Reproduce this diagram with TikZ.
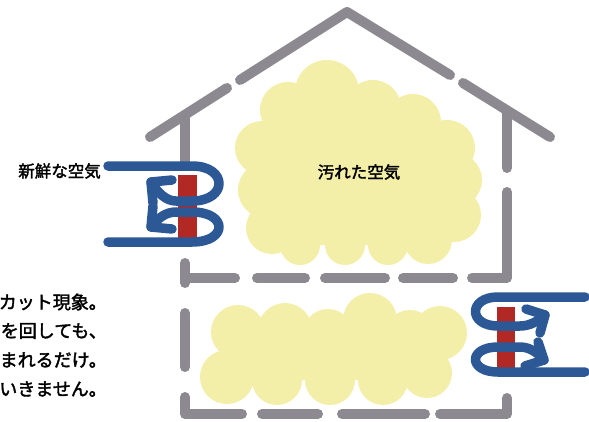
\documentclass[tikz,border=0pt]{standalone}
\usepackage{fontspec}
\usepackage{xcolor}
\newfontfamily\jpfont{Noto Sans CJK JP}[FakeBold=2]

\definecolor{wallgray}{RGB}{140,138,144}
\definecolor{airblue}{RGB}{45,88,150}
\definecolor{fanred}{RGB}{178,40,36}
\definecolor{smog}{RGB}{243,239,168}

\tikzset{
  wall/.style={line width=10pt,line cap=round,line join=round,draw=wallgray},
  flow/.style={line width=9.5pt,line cap=round,line join=round,draw=airblue},
  fan/.style={fill=fanred},
  cloud/.style={fill=smog},
  label/.style={font=\jpfont\fontsize{16.5}{20}\selectfont,inner sep=0pt},
  note/.style={font=\jpfont\fontsize{18}{22}\selectfont,inner sep=0pt,anchor=east}
}

\begin{document}
\begin{tikzpicture}[x=1pt,y=-1pt]
    \useasboundingbox[fill=white] (0,0) rectangle (589,421);
    % 2階の汚れた空気
    \fill[cloud] (327,92) -- (373,108) -- (413,122) -- (447,148) -- (455,180) -- (454,215)
      -- (428,240) -- (388,245) -- (345,245) -- (300,245) -- (272,228) -- (266,190)
      -- (262,148) -- (288,110) -- cycle;
    \foreach \cx/\cy/\r in {327/92/32,373/108/28,413/122/28,447/148/28,455/180/27,454/215/27,
      428/240/24,388/245/20,345/245/20,300/245/20,272/228/26,266/190/28,262/148/27,288/110/28}
      \fill[cloud] (\cx,\cy) circle (\r);
    % 1階の汚れた空気
    \fill[cloud] (238,332) -- (285,330) -- (328,334) -- (370,320) -- (410,335) -- (440,333)
      -- (427,373) -- (383,380) -- (330,380) -- (277,380) -- (227,377) -- cycle;
    \foreach \cx/\cy/\r in {238/332/27,285/330/27,328/334/25,370/320/27,410/335/25,440/333/27,
      227/377/27,277/380/25,330/380/25,383/380/25,427/373/25}
      \fill[cloud] (\cx,\cy) circle (\r);

    % 屋根
    \draw[wall] (240,80) -- (347,12) -- (450,75);
    \draw[wall] (227,88) -- (150,137);
    \draw[wall] (463,83) -- (550,137);
    % 2階の壁と床
    \draw[wall] (185,115) -- (185,163);
    \draw[wall] (507,111) -- (507,168);
    \draw[wall] (185,263) -- (185,283);
    \draw[wall] (185,278) -- (235,278);
    \draw[wall] (257,278) -- (305,278);
    \draw[wall] (325,278) -- (385,278);
    \draw[wall] (403,278) -- (453,278);
    \draw[wall] (472,278) -- (507,278) -- (507,192);
    % 1階の壁と床
    \draw[wall] (185,313) -- (185,367);
    \draw[wall] (185,397) -- (185,414) -- (242,414);
    \draw[wall] (262,414) -- (318,414);
    \draw[wall] (342,414) -- (425,414);
    \draw[wall] (440,414) -- (507,414) -- (507,398);

    % 換気扇
    \fill[fan] (178,175) rectangle (197,240);
    \fill[fan] (497,307) rectangle (515,370);
    % 空気の流れ(2階)
    \draw[flow] (108,166) -- (192,166) .. controls (228,166) and (228,201) .. (192,201)
      -- (176,201) .. controls (166,201) and (158,193) .. (151,182);
    \draw[flow] (172,180) -- (151,182) -- (153,203); % 矢じり
    \draw[flow] (108,242) -- (192,242) .. controls (228,242) and (228,212) .. (192,212)
      -- (176,212) .. controls (166,212) and (158,218) .. (151,227);
    \draw[flow] (153,206) -- (151,227) -- (172,229);
    % 空気の流れ(1階)
    \draw[flow] (585,297) -- (498,297) .. controls (468,297) and (468,326) .. (498,326)
      -- (520,326) .. controls (530,326) and (538,321) .. (545,315);
    \draw[flow] (526,309) -- (545,315) -- (540,333);
    \draw[flow] (585,372) -- (498,372) .. controls (468,372) and (468,347) .. (498,347)
      -- (520,347) .. controls (530,347) and (538,353) .. (544,360);
    \draw[flow] (538,342) -- (544,360) -- (525,366);

    \node[label,anchor=east] (fresh) at (101,171) {新鮮な空気};
    \node[label] (stale) at (359,172) {汚れた空気};
    \node[note] (line1) at (107,302) {カット現象。};
    \node[note] (line2) at (107,331) {を回しても、};
    \node[note] (line3) at (107,360) {まれるだけ。};
    \node[note] (line4) at (107,389) {いきません。};
\end{tikzpicture}
\end{document}
